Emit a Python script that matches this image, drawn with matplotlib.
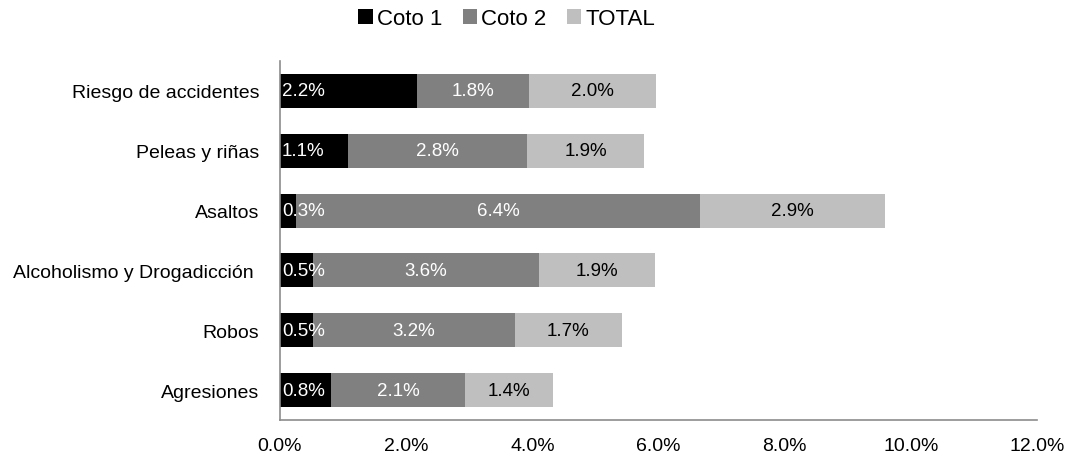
import matplotlib
matplotlib.use("Agg")

import matplotlib.pyplot as plt
import numpy as np
from matplotlib import font_manager

# ── Data (percent) ──────────────────────────────────────────────
categories = ["Riesgo de accidentes", "Peleas y riñas", "Asaltos",
              "Alcoholismo y Drogadicción ", "Robos", "Agresiones"]
coto1 = [2.17, 1.08, 0.26, 0.52, 0.52, 0.81]
coto2 = [1.78, 2.84, 6.40, 3.58, 3.20, 2.12]
total = [2.01, 1.85, 2.93, 1.84, 1.70, 1.40]
labels1 = ["2.2%", "1.1%", "0.3%", "0.5%", "0.5%", "0.8%"]
labels2 = ["1.8%", "2.8%", "6.4%", "3.6%", "3.2%", "2.1%"]
labels3 = ["2.0%", "1.9%", "2.9%", "1.9%", "1.7%", "1.4%"]
xticks = [0, 2, 4, 6, 8, 10, 12]

names = {f.name for f in font_manager.fontManager.ttflist}
family = ["Liberation Sans Narrow", "DejaVu Sans"] if "Liberation Sans Narrow" in names \
    else ["Liberation Sans", "DejaVu Sans"]
plt.rcParams["font.family"] = family

fig = plt.figure(figsize=(10.67, 4.64), dpi=100)
ax = fig.add_axes([0.2624, 0.0927, 0.7095, 0.7737])

y = np.arange(len(categories))[::-1]
h = 0.57
left2 = np.array(coto1)
left3 = left2 + np.array(coto2)

b1 = ax.barh(y, coto1, height=h, color="#000000", label="Coto 1")
b2 = ax.barh(y, coto2, left=left2, height=h, color="#808080", label="Coto 2")
b3 = ax.barh(y, total, left=left3, height=h, color="#BFBFBF", label="TOTAL")

fs = 14
bfs = 13.5
for yi, lab in zip(y, labels1):
    ax.text(0.03, yi, lab, ha="left", va="center", color="white", fontsize=bfs)
for yi, l, w, lab in zip(y, left2, coto2, labels2):
    ax.text(l + w / 2, yi, lab, ha="center", va="center", color="white", fontsize=bfs)
for yi, l, w, lab in zip(y, left3, total, labels3):
    ax.text(l + w / 2, yi, lab, ha="center", va="center", color="black", fontsize=bfs)

ax.set_xlim(0, 12)
ax.set_ylim(-0.5, len(categories) - 0.5)
ax.set_xticks(xticks)
ax.set_xticklabels([f"{v:.1f}%" for v in xticks], fontsize=fs)
ax.set_yticks(y)
ax.set_yticklabels(categories, fontsize=fs)
ax.tick_params(axis="both", length=0)
ax.tick_params(axis="x", pad=12)
ax.tick_params(axis="y", pad=15)

for s in ("top", "right"):
    ax.spines[s].set_visible(False)
for s in ("left", "bottom"):
    ax.spines[s].set_color("#8C8C8C")
    ax.spines[s].set_linewidth(1.2)

fig.legend(handles=[b1, b2, b3], loc="center", bbox_to_anchor=(0.475, 0.958),
           ncol=3, frameon=False, fontsize=16, handlelength=0.65, handleheight=0.65,
           handletextpad=0.2, columnspacing=0.9)

fig.savefig("out.png", dpi=100)
